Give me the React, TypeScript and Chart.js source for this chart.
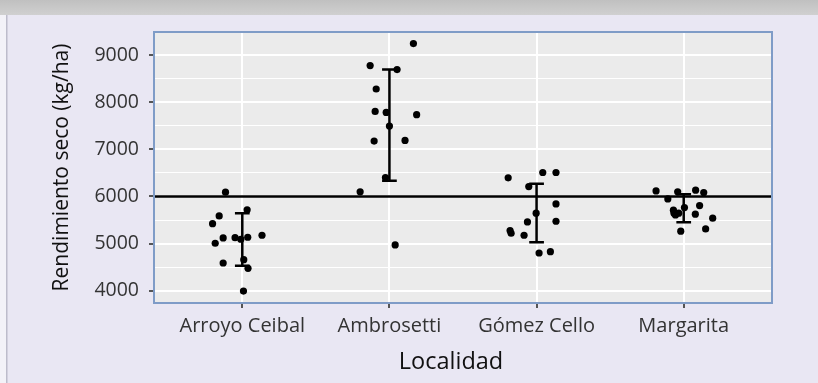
import React, { useEffect, useRef } from 'react';
import { Chart, registerables } from 'chart.js';

Chart.register(...registerables);

const categories = ['Arroyo Ceibal', 'Ambrosetti', 'Gómez Cello', 'Margarita'];
const yTicks = [4000, 5000, 6000, 7000, 8000, 9000];
const yMinorTicks = [4500, 5500, 6500, 7500, 8500];
const referenceLine = 6000;
const xTitle = 'Localidad';
const yTitle = 'Rendimiento seco (kg/ha)';

// jittered x positions (category index units) and yields
const arroyoX = [0.886, 0.843, 0.798, 1.033, 0.870, 0.816, 0.951, 0.990, 1.037, 1.134, 0.870, 1.010, 1.039, 1.008];
const arroyoY = [6092, 5588, 5424, 5716, 5120, 5008, 5127, 5093, 5135, 5178, 4589, 4659, 4476, 3994];

const ambroX = [2.163, 1.869, 2.052, 1.910, 1.903, 1.978, 2.185, 2.000, 1.896, 2.106, 1.973, 1.801, 2.039];
const ambroY = [9244, 8777, 8692, 8281, 7805, 7784, 7735, 7495, 7176, 7189, 6402, 6098, 4972];

const gomezX = [2.807, 3.042, 3.132, 2.947, 3.132, 2.997, 2.938, 3.132, 2.820, 2.827, 2.915, 3.017, 3.094];
const gomezY = [6396, 6509, 6509, 6211, 5843, 5645, 5460, 5475, 5276, 5220, 5178, 4801, 4829];

const margaritaX = [3.812, 3.892, 3.959, 4.081, 4.136, 4.108, 4.005, 3.930, 3.934, 3.966, 3.944, 4.079, 4.197, 3.980, 4.149];
const margaritaY = [6119, 5949, 6098, 6134, 6083, 5807, 5764, 5709, 5645, 5645, 5609, 5624, 5539, 5263, 5312];

// error bars (mean ± sd) per locality
const errLow = [4531, 6332, 5029, 5454];
const errHigh = [5645, 8692, 6268, 6049];

const FONT = "'Open Sans', 'Noto Sans', sans-serif";
const W = 818;
const H = 383;

const bgPlugin = {
  id: 'bgPlugin',
  beforeDraw(chart: any) {
    const { ctx, chartArea: a } = chart;
    ctx.save();
    ctx.fillStyle = '#e9e7f3';
    ctx.fillRect(0, 0, W, H);
    ctx.fillStyle = '#f3f2f8';
    ctx.fillRect(0, 0, 6, H);
    ctx.fillStyle = '#bdbccb';
    ctx.fillRect(6, 0, 1.5, H);
    const g = ctx.createLinearGradient(0, 0, 0, 15);
    g.addColorStop(0, '#c0c0c0');
    g.addColorStop(1, '#d0d0d0');
    ctx.fillStyle = g;
    ctx.fillRect(0, 0, W, 15);
    ctx.fillStyle = '#ebebeb';
    ctx.fillRect(a.left, a.top, a.right - a.left, a.bottom - a.top);
    ctx.restore();
  },
  afterDraw(chart: any) {
    const { ctx, chartArea: a } = chart;
    ctx.save();
    ctx.strokeStyle = '#7f9cc7';
    ctx.lineWidth = 2;
    ctx.strokeRect(a.left, a.top, a.right - a.left, a.bottom - a.top);
    ctx.fillStyle = '#111';
    ctx.font = `23.5px ${FONT}`;
    ctx.textAlign = 'center';
    ctx.textBaseline = 'middle';
    ctx.fillText(xTitle, (a.left + a.right) / 2 - 12, 362);
    ctx.restore();
  },
};

function pts(xs: number[], ys: number[]) {
  return xs.map((x, i) => ({ x, y: ys[i] }));
}

function errPath(i: number) {
  const c = i + 1;
  const w = 0.05;
  return [
    { x: c - w, y: errHigh[i] },
    { x: c + w, y: errHigh[i] },
    { x: c, y: errHigh[i] },
    { x: c, y: errLow[i] },
    { x: c - w, y: errLow[i] },
    { x: c + w, y: errLow[i] },
  ];
}

export default function App() {
  const ref = useRef<HTMLCanvasElement | null>(null);
  useEffect(() => {
    document.body.style.margin = '0';
    const groups = [
      [arroyoX, arroyoY],
      [ambroX, ambroY],
      [gomezX, gomezY],
      [margaritaX, margaritaY],
    ];
    const pointSets = groups.map(([xs, ys], i) => ({
      type: 'scatter',
      label: categories[i],
      data: pts(xs, ys),
      pointRadius: 3.6,
      pointBackgroundColor: '#000',
      pointBorderWidth: 0,
      order: 1,
    }));
    const errSets = categories.map((c, i) => ({
      type: 'line',
      label: c + ' sd',
      data: errPath(i),
      borderColor: '#000',
      borderWidth: 2.5,
      pointRadius: 0,
      fill: false,
      tension: 0,
      order: 2,
    }));
    const refSet = {
      type: 'line',
      label: 'ref',
      data: [
        { x: 0.4, y: referenceLine },
        { x: 4.6, y: referenceLine },
      ],
      borderColor: '#000',
      borderWidth: 2.5,
      pointRadius: 0,
      fill: false,
      order: 3,
    };
    const chart = new Chart(ref.current!, {
      type: 'scatter',
      data: { datasets: [...pointSets, ...errSets, refSet] as any },
      plugins: [bgPlugin],
      options: {
        animation: false,
        responsive: false,
        devicePixelRatio: 1,
        layout: { padding: { left: 0, right: 46, top: 32, bottom: 0 } },
        plugins: { legend: { display: false }, tooltip: { enabled: false } },
        scales: {
          x: {
            type: 'linear',
            min: 0.4,
            max: 4.6,
            afterBuildTicks: (s: any) => {
              s.ticks = categories.map((_, i) => ({ value: i + 1 }));
            },
            afterFit: (s: any) => {
              s.height = 80;
            },
            ticks: {
              autoSkip: false,
              maxRotation: 0,
              padding: 6,
              color: '#333',
              font: { family: FONT, size: 20 },
              callback: (v: any) => categories[Math.round(v) - 1] ?? '',
            },
            grid: { color: '#ffffff', lineWidth: 2, tickColor: '#555', tickLength: 5 },
            border: { display: false },
          },
          y: {
            type: 'linear',
            min: 3740,
            max: 9490,
            afterBuildTicks: (s: any) => {
              s.ticks = [...yTicks, ...yMinorTicks].sort((a, b) => a - b).map((v) => ({ value: v }));
            },
            afterFit: (s: any) => {
              s.width = 154;
            },
            ticks: {
              autoSkip: false,
              padding: 10,
              color: '#333',
              font: { family: FONT, size: 19.5 },
              callback: (v: any) => (yTicks.includes(v) ? String(v) : ''),
            },
            grid: {
              color: '#ffffff',
              lineWidth: (c: any) => (yTicks.includes(c.tick?.value) ? 2 : 1),
              tickColor: (c: any) => (yTicks.includes(c.tick?.value) ? '#555' : 'rgba(0,0,0,0)'),
              tickLength: 5,
            },
            border: { display: false },
            title: {
              display: true,
              text: yTitle,
              color: '#111',
              font: { family: FONT, size: 21 },
              padding: { top: 49, bottom: 0 },
            },
          },
        },
      } as any,
    });
    return () => chart.destroy();
  }, []);
  return (
    <div style={{ position: 'fixed', left: 0, top: 0, width: W, height: H }}>
      <canvas ref={ref} width={W} height={H} style={{ width: W, height: H, display: 'block' }} />
    </div>
  );
}
